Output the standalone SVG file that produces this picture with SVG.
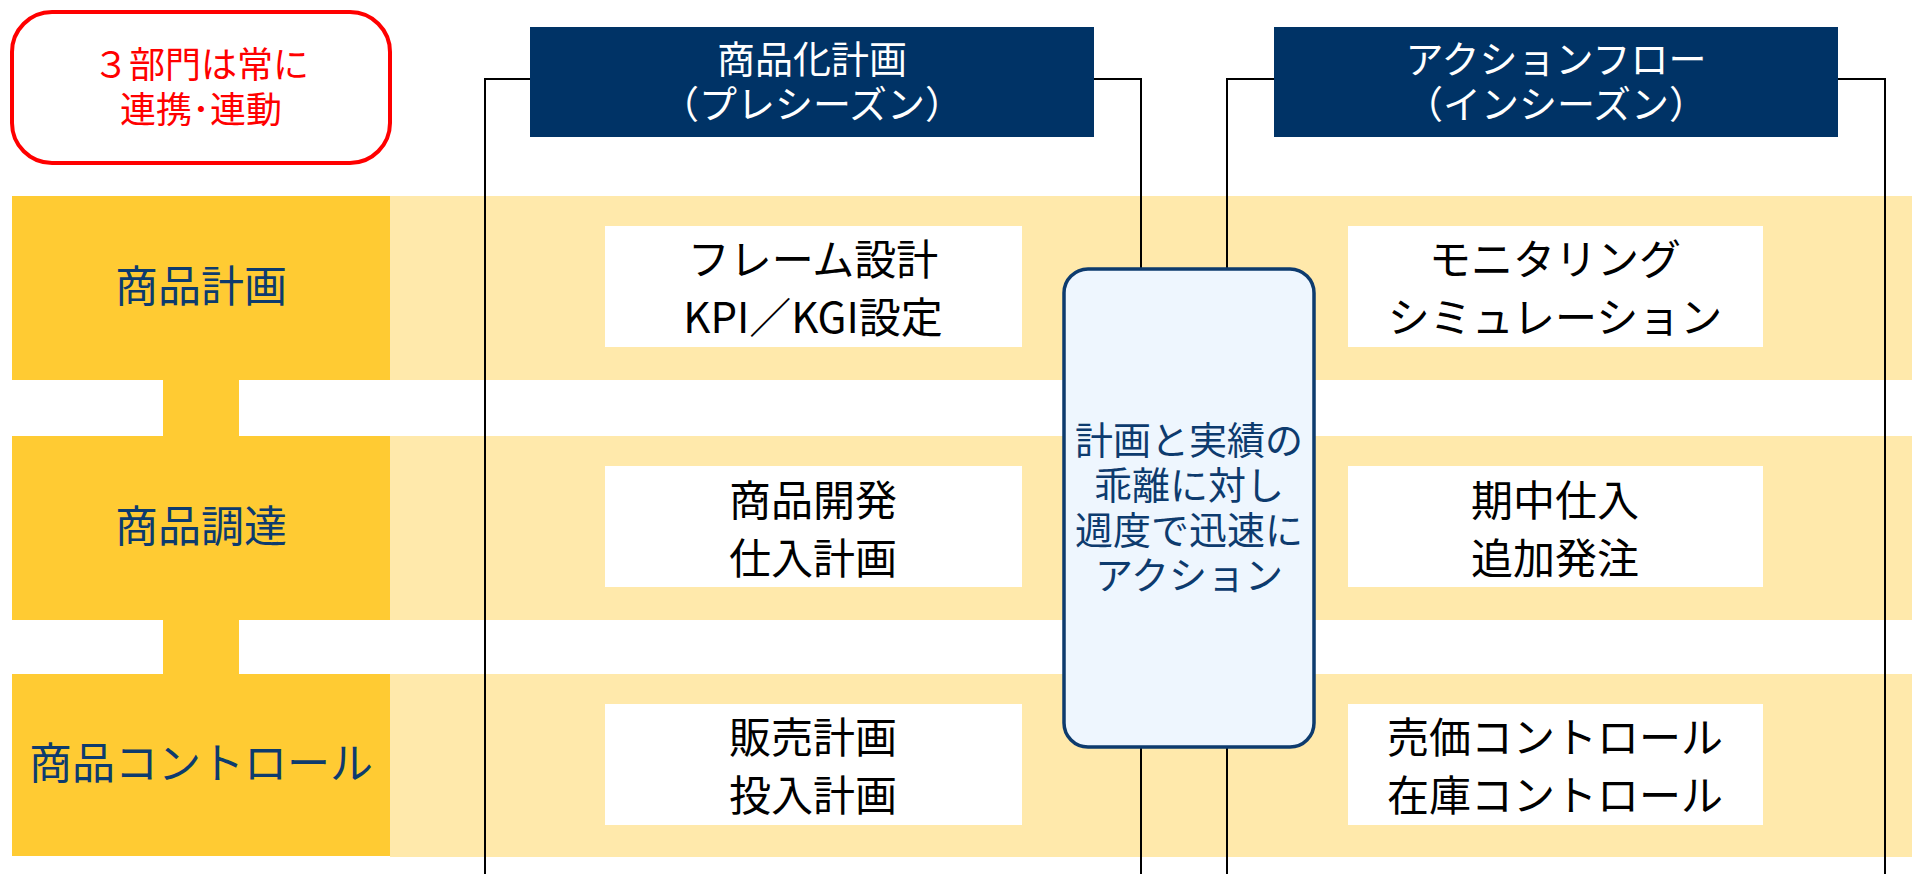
<svg xmlns="http://www.w3.org/2000/svg" width="1912" height="874" viewBox="0 0 1912 874">
<style>
text{font-family:"Noto Sans CJK JP","Noto Sans",sans-serif;text-anchor:middle;dominant-baseline:central}
.band{fill:#FFE9AB}
.dept{fill:#FFCB33}
.wbox{fill:#FFFFFF}
.hdr{fill:#003366}
.ln{stroke:#000;stroke-width:2;fill:none}
.lbl{font-size:43px;fill:#0D3B6E}
.bt{font-size:42px;fill:#000}
.ht{font-size:38px;fill:#FFFFFF}
.ct{font-size:38px;fill:#0D3B6E}
.rt{font-size:36px;fill:#FF0000}
</style>
<rect width="1912" height="874" fill="#FFFFFF"/>
<g id="bands">
<rect class="band" x="390" y="196" width="1522" height="184"/>
<rect class="band" x="390" y="436" width="1522" height="184"/>
<rect class="band" x="390" y="674" width="1522" height="183"/>
</g>
<g id="note">
<rect x="12" y="12" width="378" height="151" rx="40" fill="#FFFFFF" stroke="#FF0000" stroke-width="4"/>
<text class="rt" x="201" y="62">３部門は常に</text>
<text class="rt" x="201" y="107">連携･連動</text>
</g>
<g id="dept-links">
<rect class="dept" x="163" y="378" width="76" height="60"/>
<rect class="dept" x="163" y="618" width="76" height="58"/>
</g>
<g id="dept1">
<rect class="dept" x="12" y="196" width="378" height="184"/>
<text class="lbl" x="201" y="283">商品計画</text>
</g>
<g id="dept2">
<rect class="dept" x="12" y="436" width="378" height="184"/>
<text class="lbl" x="201" y="523">商品調達</text>
</g>
<g id="dept3">
<rect class="dept" x="12" y="674" width="378" height="182"/>
<text class="lbl" x="201" y="760">商品コントロール</text>
</g>
<g id="connectors">
<path class="ln" d="M530 79H485V874M1094 79H1141V874"/>
<path class="ln" d="M1274 79H1227V874M1838 79H1885V874"/>
</g>
<g id="header-pre">
<rect class="hdr" x="530" y="27" width="564" height="110"/>
<text class="ht" x="812" y="56">商品化計画</text>
<text class="ht" x="812" y="101">（プレシーズン）</text>
</g>
<g id="header-in">
<rect class="hdr" x="1274" y="27" width="564" height="110"/>
<text class="ht" x="1556" y="56">アクションフロー</text>
<text class="ht" x="1556" y="101">（インシーズン）</text>
</g>
<g id="pre1">
<rect class="wbox" x="605" y="226" width="417" height="121"/>
<text class="bt" x="813" y="256">フレーム設計</text>
<text class="bt" x="813" y="314">KPI／KGI設定</text>
</g>
<g id="pre2">
<rect class="wbox" x="605" y="466" width="417" height="121"/>
<text class="bt" x="813" y="497">商品開発</text>
<text class="bt" x="813" y="555">仕入計画</text>
</g>
<g id="pre3">
<rect class="wbox" x="605" y="704" width="417" height="121"/>
<text class="bt" x="813" y="734">販売計画</text>
<text class="bt" x="813" y="792">投入計画</text>
</g>
<g id="in1">
<rect class="wbox" x="1348" y="226" width="415" height="121"/>
<text class="bt" x="1555" y="256">モニタリング</text>
<text class="bt" x="1555" y="314">シミュレーション</text>
</g>
<g id="in2">
<rect class="wbox" x="1348" y="466" width="415" height="121"/>
<text class="bt" x="1555" y="497">期中仕入</text>
<text class="bt" x="1555" y="555">追加発注</text>
</g>
<g id="in3">
<rect class="wbox" x="1348" y="704" width="415" height="121"/>
<text class="bt" x="1555" y="734">売価コントロール</text>
<text class="bt" x="1555" y="792">在庫コントロール</text>
</g>
<g id="action">
<rect x="1064" y="269" width="250" height="478" rx="24" fill="#EEF6FE" stroke="#0D3B6E" stroke-width="3.5"/>
<text class="ct" x="1189" y="437">計画と実績の</text>
<text class="ct" x="1189" y="482">乖離に対し</text>
<text class="ct" x="1189" y="527">週度で迅速に</text>
<text class="ct" x="1189" y="572">アクション</text>
</g>
</svg>
